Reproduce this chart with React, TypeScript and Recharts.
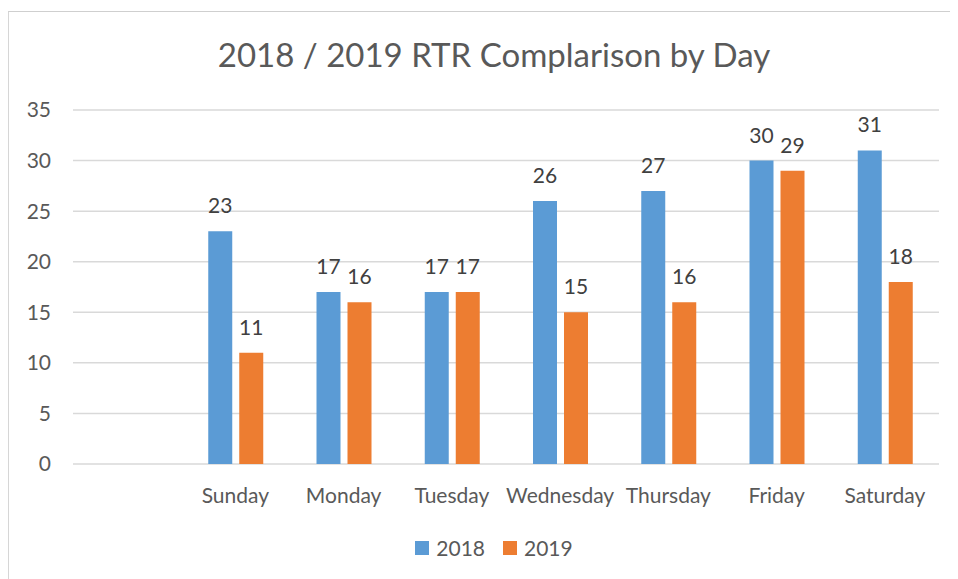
import React from 'react';
import { BarChart, Bar, XAxis, YAxis, CartesianGrid, Legend, LabelList } from 'recharts';

const days = ['', 'Sunday', 'Monday', 'Tuesday', 'Wednesday', 'Thursday', 'Friday', 'Saturday'];
const rtr2018 = [null, 23, 17, 17, 26, 27, 30, 31];
const rtr2019 = [null, 11, 16, 17, 15, 16, 29, 18];
const yTicks = [0, 5, 10, 15, 20, 25, 30, 35];

const data = days.map((day, i) => ({ day, y2018: rtr2018[i], y2019: rtr2019[i] }));

const FONT = 'Lato, "Open Sans", sans-serif';
const GREY = '#595959';

function LegendBox(props: any) {
  const items = props.payload || [];
  return (
    <div style={{ display: 'flex', justifyContent: 'center', alignItems: 'center', fontSize: 21, fontFamily: FONT, color: GREY }}>
      {items.map((it: any, i: number) => (
        <div key={it.value} style={{ display: 'flex', alignItems: 'center', marginLeft: i ? 18 : 0 }}>
          <span style={{ width: 14, height: 14, background: it.color, marginRight: 7, display: 'inline-block' }} />
          <span>{it.value}</span>
        </div>
      ))}
    </div>
  );
}

export default function App() {
  return (
    <div style={{ position: 'relative', width: 958, height: 579, margin: '-8px 0 0 -8px', overflow: 'hidden', background: '#fff', fontFamily: FONT }}>
      <div style={{ position: 'absolute', left: 0, width: 988, top: 34, textAlign: 'center', fontSize: 33, color: GREY }}>
        2018 / 2019 RTR Complarison by Day
      </div>
      <div style={{ position: 'absolute', left: 0, top: 0 }}>
        <BarChart
          width={958}
          height={579}
          data={data}
          margin={{ top: 110, right: 19, left: 13, bottom: 85 }}
          barSize={24}
          barGap={7}
        >
          <CartesianGrid vertical={false} stroke="#d9d9d9" strokeWidth={1.5} />
          <XAxis
            dataKey="day"
            height={30}
            axisLine={false}
            tickLine={false}
            tickSize={0}
            tickMargin={24}
            interval={0}
            tick={{ fontSize: 21, fill: GREY, fontFamily: FONT }}
          />
          <YAxis
            width={60}
            domain={[0, 35]}
            ticks={yTicks}
            axisLine={false}
            tickLine={false}
            tickSize={0}
            tickMargin={22}
            tick={{ fontSize: 21, fill: GREY, fontFamily: FONT }}
          />
          <Legend
            verticalAlign="middle"
            align="center"
            content={<LegendBox />}
            wrapperStyle={{ top: 535, left: 0, width: 988 }}
          />
          <Bar dataKey="y2018" name="2018" fill="#5B9BD5" isAnimationActive={false}>
            <LabelList dataKey="y2018" position="top" offset={18} style={{ fontSize: 21, fill: '#404040', fontFamily: FONT }} />
          </Bar>
          <Bar dataKey="y2019" name="2019" fill="#ED7D31" isAnimationActive={false}>
            <LabelList dataKey="y2019" position="top" offset={18} style={{ fontSize: 21, fill: '#404040', fontFamily: FONT }} />
          </Bar>
        </BarChart>
      </div>
      <div style={{ position: 'absolute', left: 7, top: 11, width: 1000, height: 620, borderTop: '1px solid #cfcfcf', borderLeft: '2px solid #d6d6d6', pointerEvents: 'none' }} />
    </div>
  );
}
